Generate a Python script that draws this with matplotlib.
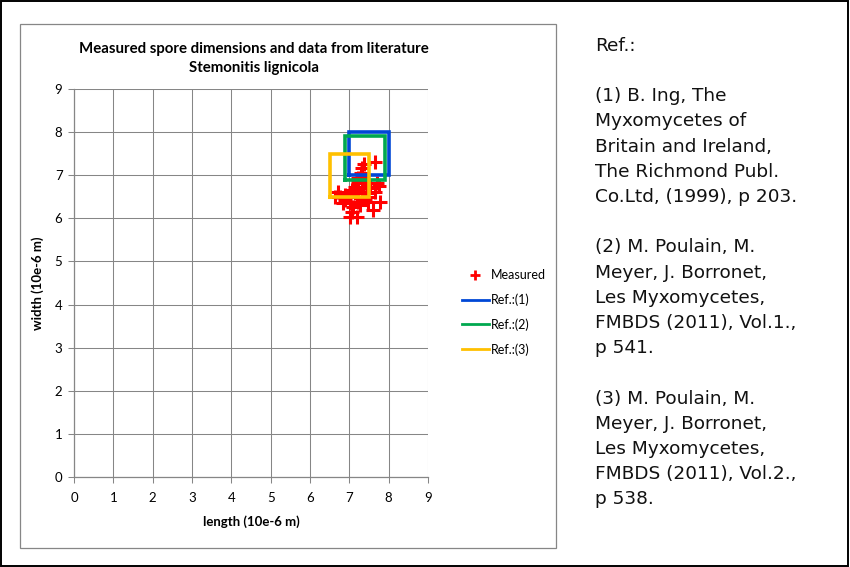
import numpy as np
import matplotlib.pyplot as plt
from matplotlib.patches import Rectangle
from matplotlib.lines import Line2D

# ============================================================
#  DATA
# ============================================================
# measured spores (length, width) in 10e-6 m
meas_len = [7.65, 7.38, 7.33, 7.30, 7.31, 7.23, 7.40, 7.70, 7.53, 7.14,
            7.06, 7.31, 6.72, 7.48, 6.89, 6.64, 7.19, 7.40, 7.78, 6.89,
            7.02, 7.23, 7.48, 7.10, 7.61, 7.06, 7.02, 7.19, 6.77, 6.97,
            7.23, 7.44, 7.14, 7.31, 7.65, 7.75, 7.23, 6.85, 7.48, 7.27]
meas_wid = [7.31, 7.26, 7.16, 7.06, 6.97, 6.85, 6.81, 6.81, 6.73, 6.73,
            6.66, 6.62, 6.62, 6.58, 6.54, 6.50, 6.50, 6.46, 6.39, 6.43,
            6.35, 6.39, 6.39, 6.27, 6.19, 6.15, 6.04, 6.04, 6.50, 6.50,
            6.66, 6.70, 6.58, 6.73, 6.62, 6.75, 6.93, 6.35, 6.50, 6.31]

# literature ranges
ref_names = ['Ref.:(1)', 'Ref.:(2)', 'Ref.:(3)']
ref_len_min = [7.0, 6.9, 6.5]
ref_len_max = [8.0, 7.9, 7.5]
ref_wid_min = [7.0, 6.9, 6.5]
ref_wid_max = [8.0, 7.9, 7.5]
ref_colors = ['#0047d6', '#00a84f', '#ffc000']

ticks = list(range(0, 10))

ref_text = ['Ref.:', '',
            '(1) B. Ing, The', 'Myxomycetes of', 'Britain and Ireland,',
            'The Richmond Publ.', 'Co.Ltd, (1999), p 203.', '',
            '(2) M. Poulain, M.', 'Meyer, J. Borronet,', 'Les Myxomycetes,',
            'FMBDS (2011), Vol.1.,', 'p 541.', '',
            '(3) M. Poulain, M.', 'Meyer, J. Borronet,', 'Les Myxomycetes,',
            'FMBDS (2011), Vol.2.,', 'p 538.']

# ============================================================
#  FIGURE
# ============================================================
W, H = 850, 567
fig = plt.figure(figsize=(8.5, 5.67), dpi=100)
fig.patch.set_facecolor('white')

def fx(px):
    return px / W

def fy(py):
    return 1 - py / H

# outer black frame + chart frame
fig.patches.append(Rectangle((fx(0.8), fy(565.5)), fx(847.5), 564.5 / H,
                             transform=fig.transFigure, fill=False,
                             edgecolor='black', lw=1.4))
fig.patches.append(Rectangle((fx(19.5), fy(548)), fx(556 - 19.5), (548 - 23.5) / H,
                             transform=fig.transFigure, fill=False,
                             edgecolor='#868686', lw=0.9))

ax = fig.add_axes([fx(74), fy(477), fx(428 - 74), (477 - 89) / H])
cfont = 'Lato'
grid_c = '#868686'

for i in range(len(ref_names)):
    x0, x1 = ref_len_min[i], ref_len_max[i]
    y0, y1 = ref_wid_min[i], ref_wid_max[i]
    ax.plot([x0, x1, x1, x0, x0], [y0, y0, y1, y1, y0], '-',
            color=ref_colors[i], lw=2.6, zorder=3 + i,
            solid_joinstyle='miter')

ax.plot(meas_len, meas_wid, '+', color='#ff0000', ms=10, mew=2.2,
        ls='none', zorder=2)

ax.set_xlim(0, 9)
ax.set_ylim(0, 9)
ax.set_xticks(ticks)
ax.set_yticks(ticks)
ax.grid(True, color=grid_c, lw=0.75)
ax.set_axisbelow(True)
for s in ['top', 'right']:
    ax.spines[s].set_visible(False)
for s in ['left', 'bottom']:
    ax.spines[s].set_color(grid_c)
    ax.spines[s].set_linewidth(0.9)
ax.tick_params(direction='out', length=4.3, width=0.75, color=grid_c,
               labelsize=9.5, pad=4)
ax.tick_params(axis='x', pad=6.5)
for lab in ax.get_xticklabels() + ax.get_yticklabels():
    lab.set_fontfamily(cfont)
    lab.set_fontsize(9.5)

ax.set_xlabel('length (10e-6 m)', fontsize=9.5, fontweight='bold',
              family=cfont, labelpad=8)
ax.set_ylabel('width (10e-6 m)', fontsize=9.5, fontweight='bold',
              family=cfont, labelpad=8)

fig.text(fx(254), fy(53), 'Measured spore dimensions and data from literature',
         ha='center', va='baseline', fontsize=10.8, fontweight='bold', family=cfont)
fig.text(fx(254), fy(72), 'Stemonitis lignicola',
         ha='center', va='baseline', fontsize=10.8, fontweight='bold', family=cfont)

# legend with thinner line handles
leg_h = [Line2D([], [], marker='+', color='#ff0000', ls='none', ms=7, mew=2)]
leg_h += [Line2D([], [], color=c, lw=2) for c in ref_colors]
leg = fig.legend(leg_h, ['Measured'] + ref_names,
                 loc='upper left', bbox_to_anchor=(fx(451), fy(258)),
                 frameon=False, prop={'family': cfont, 'size': 9},
                 handlelength=2.1, handletextpad=0.2, labelspacing=0.98)

# reference list on the right
for i, line in enumerate(ref_text):
    fig.text(fx(595), fy(50.7 + i * 25.2), line, ha='left', va='baseline',
             fontsize=13.3, family='DejaVu Sans', color='#111111')

plt.savefig('out.png', dpi=100)
